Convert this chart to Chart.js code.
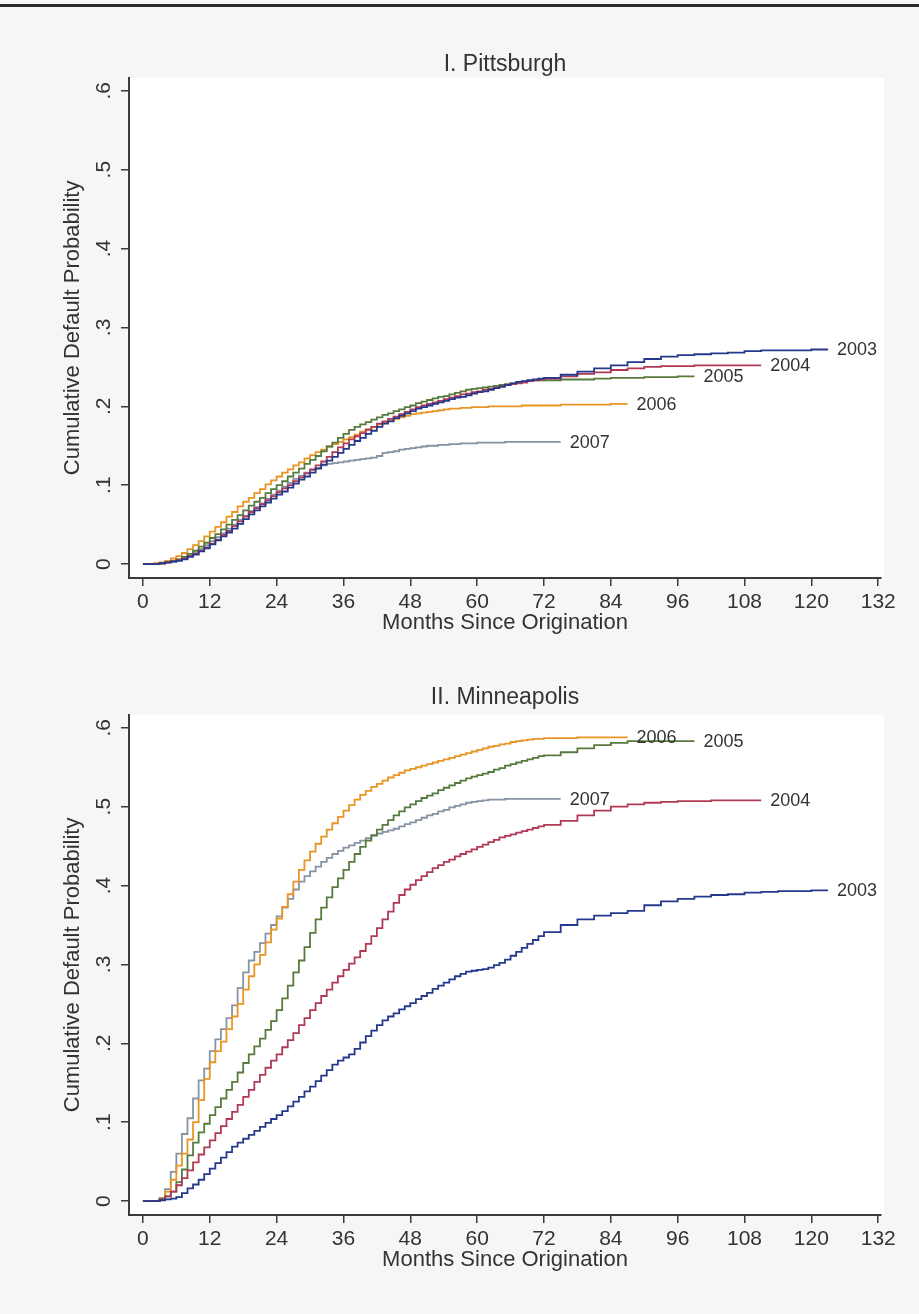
<!DOCTYPE html>
<html>
<head>
<meta charset="utf-8">
<script src="https://cdn.jsdelivr.net/npm/chart.js@4.4.1/dist/chart.umd.min.js"></script>
<style>
  html, body { margin: 0; padding: 0; background: #f6f6f4; }
  body { width: 919px; height: 1314px; position: relative; overflow: hidden; }
  .rule { position: absolute; left: 0; top: 4px; width: 919px; height: 3px; background: #2a2a2a; }
  .panel { position: absolute; left: 0; width: 919px; }
  #top { top: 0; height: 637px; }
  #bottom { top: 637px; height: 677px; }
</style>
</head>
<body>
<div class="rule"></div>
<div class="panel" id="top"><canvas id="pittChart"></canvas></div>
<div class="panel" id="bottom"><canvas id="mplsChart"></canvas></div>
<script>
// month grid: monthly up to 72, then every 3 months
const months = [
  0, 1, 2, 3, 4, 5, 6, 7, 8, 9, 10, 11,
  12, 13, 14, 15, 16, 17, 18, 19, 20, 21, 22, 23,
  24, 25, 26, 27, 28, 29, 30, 31, 32, 33, 34, 35,
  36, 37, 38, 39, 40, 41, 42, 43, 44, 45, 46, 47,
  48, 49, 50, 51, 52, 53, 54, 55, 56, 57, 58, 59,
  60, 61, 62, 63, 64, 65, 66, 67, 68, 69, 70, 71,
  72, 75, 78, 81, 84, 87, 90, 93, 96, 99, 102, 105, 108, 111, 114, 117, 120, 123
];

const cohorts = ['2003', '2004', '2005', '2006', '2007'];
const cohortColors = ['#26388c', '#b03a55', '#577a3d', '#e99524', '#8593a3'];

const xTicks = [0, 12, 24, 36, 48, 60, 72, 84, 96, 108, 120, 132];
const yTicks = [0, 0.1, 0.2, 0.3, 0.4, 0.5, 0.6];
const yTickLabels = ['0', '.1', '.2', '.3', '.4', '.5', '.6'];

// I. Pittsburgh
const pitt2003 = [
  0, 0, 0, 0.001, 0.002, 0.003, 0.004, 0.006, 0.009, 0.012, 0.016, 0.020,
  0.025, 0.030, 0.035, 0.040, 0.045, 0.051, 0.057, 0.063, 0.068, 0.073, 0.078, 0.083,
  0.088, 0.092, 0.097, 0.102, 0.107, 0.111, 0.116, 0.121, 0.126, 0.131, 0.136, 0.141,
  0.146, 0.151, 0.156, 0.160, 0.165, 0.169, 0.174, 0.178, 0.181, 0.185, 0.188, 0.191,
  0.194, 0.197, 0.199, 0.201, 0.203, 0.205, 0.207, 0.209, 0.211, 0.212, 0.214, 0.216,
  0.218, 0.219, 0.221, 0.223, 0.225, 0.227, 0.229, 0.231, 0.232, 0.233, 0.234, 0.235,
  0.236, 0.240, 0.244, 0.248, 0.252, 0.256, 0.260, 0.263, 0.265, 0.266, 0.267, 0.268,
  0.270, 0.271, 0.271, 0.271, 0.272, 0.272
];
const pitt2004 = [
  0, 0, 0, 0.001, 0.002, 0.003, 0.005, 0.007, 0.010, 0.013, 0.017, 0.021,
  0.026, 0.031, 0.037, 0.042, 0.048, 0.054, 0.060, 0.066, 0.071, 0.076, 0.081, 0.086,
  0.091, 0.096, 0.100, 0.105, 0.110, 0.115, 0.120, 0.125, 0.130, 0.136, 0.142, 0.148,
  0.153, 0.158, 0.162, 0.166, 0.170, 0.174, 0.178, 0.181, 0.184, 0.187, 0.190, 0.193,
  0.196, 0.199, 0.201, 0.203, 0.205, 0.207, 0.209, 0.211, 0.213, 0.215, 0.216, 0.218,
  0.219, 0.221, 0.222, 0.224, 0.225, 0.227, 0.228, 0.229, 0.230, 0.232, 0.233, 0.234,
  0.235, 0.238, 0.241, 0.243, 0.246, 0.248, 0.250, 0.251, 0.251, 0.252, 0.252, 0.252,
  0.252, 0.252
];
const pitt2005 = [
  0, 0, 0, 0.001, 0.002, 0.004, 0.006, 0.009, 0.013, 0.017, 0.022, 0.027,
  0.033, 0.038, 0.044, 0.050, 0.056, 0.062, 0.068, 0.074, 0.079, 0.084, 0.090, 0.095,
  0.100, 0.105, 0.111, 0.116, 0.121, 0.127, 0.132, 0.137, 0.143, 0.149, 0.154, 0.160,
  0.165, 0.170, 0.174, 0.177, 0.180, 0.183, 0.186, 0.189, 0.191, 0.194, 0.196, 0.199,
  0.201, 0.204, 0.206, 0.208, 0.210, 0.212, 0.213, 0.215, 0.217, 0.219, 0.221, 0.222,
  0.223, 0.224, 0.225, 0.226, 0.227, 0.228, 0.229, 0.230, 0.231, 0.232, 0.233, 0.233,
  0.233, 0.234, 0.234, 0.235, 0.236, 0.236, 0.237, 0.237, 0.238, 0.238
];
const pitt2006 = [
  0, 0, 0.001, 0.002, 0.004, 0.007, 0.010, 0.014, 0.019, 0.024, 0.029, 0.035,
  0.041, 0.047, 0.053, 0.060, 0.066, 0.073, 0.079, 0.084, 0.090, 0.095, 0.101, 0.106,
  0.111, 0.116, 0.120, 0.125, 0.129, 0.134, 0.138, 0.142, 0.145, 0.149, 0.152, 0.155,
  0.158, 0.161, 0.164, 0.168, 0.171, 0.174, 0.177, 0.180, 0.182, 0.184, 0.186, 0.188,
  0.190, 0.191, 0.192, 0.193, 0.194, 0.195, 0.196, 0.197, 0.197, 0.198, 0.198, 0.199,
  0.199, 0.199, 0.200, 0.200, 0.200, 0.200, 0.200, 0.200, 0.201, 0.201, 0.201, 0.201,
  0.201, 0.202, 0.202, 0.202, 0.203, 0.203
];
const pitt2007 = [
  0, 0, 0, 0.001, 0.002, 0.004, 0.006, 0.008, 0.011, 0.015, 0.019, 0.024,
  0.029, 0.034, 0.039, 0.045, 0.050, 0.056, 0.061, 0.067, 0.072, 0.077, 0.083, 0.088,
  0.093, 0.098, 0.103, 0.108, 0.112, 0.116, 0.119, 0.122, 0.125, 0.127, 0.128, 0.129,
  0.130, 0.131, 0.132, 0.133, 0.134, 0.135, 0.137, 0.141, 0.142, 0.143, 0.145, 0.146,
  0.147, 0.148, 0.149, 0.150, 0.150, 0.151, 0.151, 0.152, 0.152, 0.153, 0.153, 0.153,
  0.154, 0.154, 0.154, 0.154, 0.154, 0.155, 0.155, 0.155, 0.155, 0.155, 0.155, 0.155,
  0.155, 0.155
];

// II. Minneapolis
const mpls2003 = [
  0, 0, 0, 0.001, 0.002, 0.003, 0.005, 0.010, 0.016, 0.021, 0.027, 0.034,
  0.041, 0.048, 0.055, 0.062, 0.069, 0.074, 0.079, 0.084, 0.089, 0.094, 0.099, 0.104,
  0.109, 0.114, 0.120, 0.126, 0.132, 0.139, 0.145, 0.152, 0.159, 0.166, 0.173, 0.178,
  0.182, 0.186, 0.193, 0.201, 0.209, 0.216, 0.223, 0.229, 0.234, 0.238, 0.243, 0.247,
  0.251, 0.256, 0.260, 0.264, 0.269, 0.273, 0.277, 0.281, 0.285, 0.288, 0.291, 0.292,
  0.293, 0.294, 0.296, 0.299, 0.302, 0.306, 0.311, 0.316, 0.321, 0.326, 0.331, 0.336,
  0.341, 0.350, 0.357, 0.362, 0.365, 0.368, 0.375, 0.380, 0.383, 0.386, 0.388, 0.389,
  0.391, 0.392, 0.393, 0.393, 0.394, 0.394
];
const mpls2004 = [
  0, 0, 0, 0.002, 0.006, 0.012, 0.020, 0.029, 0.039, 0.049, 0.059, 0.068,
  0.077, 0.086, 0.095, 0.104, 0.113, 0.122, 0.132, 0.141, 0.151, 0.160, 0.169, 0.178,
  0.186, 0.195, 0.204, 0.213, 0.223, 0.232, 0.242, 0.251, 0.260, 0.268, 0.277, 0.285,
  0.293, 0.301, 0.309, 0.317, 0.326, 0.336, 0.346, 0.357, 0.367, 0.378, 0.388, 0.395,
  0.401, 0.407, 0.412, 0.417, 0.422, 0.426, 0.430, 0.433, 0.437, 0.440, 0.443, 0.446,
  0.449, 0.452, 0.455, 0.458, 0.461, 0.463, 0.465, 0.467, 0.469, 0.471, 0.473, 0.475,
  0.477, 0.482, 0.489, 0.495, 0.500, 0.503, 0.505, 0.506, 0.507, 0.507, 0.508, 0.508,
  0.508, 0.508
];
const mpls2005 = [
  0, 0, 0, 0.002, 0.006, 0.012, 0.024, 0.040, 0.058, 0.074, 0.087, 0.098,
  0.109, 0.119, 0.130, 0.141, 0.151, 0.163, 0.175, 0.186, 0.196, 0.206, 0.217, 0.228,
  0.242, 0.257, 0.273, 0.290, 0.305, 0.322, 0.340, 0.357, 0.372, 0.385, 0.398, 0.409,
  0.420, 0.430, 0.440, 0.449, 0.457, 0.464, 0.471, 0.477, 0.483, 0.489, 0.494, 0.499,
  0.503, 0.507, 0.511, 0.514, 0.517, 0.521, 0.524, 0.527, 0.530, 0.533, 0.536, 0.538,
  0.540, 0.542, 0.544, 0.547, 0.549, 0.552, 0.554, 0.556, 0.558, 0.560, 0.562, 0.564,
  0.565, 0.569, 0.574, 0.578, 0.581, 0.583, 0.583, 0.583, 0.583, 0.583
];
const mpls2006 = [
  0, 0, 0, 0.003, 0.012, 0.027, 0.045, 0.060, 0.078, 0.100, 0.128, 0.155,
  0.176, 0.190, 0.202, 0.218, 0.234, 0.250, 0.268, 0.285, 0.300, 0.312, 0.328, 0.344,
  0.358, 0.373, 0.389, 0.405, 0.420, 0.432, 0.443, 0.453, 0.462, 0.471, 0.479, 0.487,
  0.495, 0.502, 0.509, 0.515, 0.520, 0.525, 0.529, 0.533, 0.537, 0.540, 0.543, 0.546,
  0.548, 0.550, 0.552, 0.554, 0.556, 0.558, 0.560, 0.562, 0.564, 0.566, 0.568, 0.570,
  0.572, 0.574, 0.576, 0.577, 0.579, 0.580, 0.582, 0.583, 0.584, 0.585, 0.586, 0.586,
  0.587, 0.587, 0.588, 0.588, 0.588, 0.588
];
const mpls2007 = [
  0, 0, 0, 0.004, 0.015, 0.037, 0.060, 0.085, 0.105, 0.130, 0.153, 0.168,
  0.190, 0.205, 0.218, 0.232, 0.248, 0.270, 0.290, 0.305, 0.316, 0.327, 0.339, 0.350,
  0.361, 0.372, 0.383, 0.395, 0.405, 0.412, 0.418, 0.424, 0.430, 0.435, 0.440, 0.444,
  0.448, 0.451, 0.454, 0.457, 0.460, 0.463, 0.466, 0.468, 0.470, 0.472, 0.475, 0.478,
  0.480, 0.483, 0.486, 0.489, 0.491, 0.494, 0.496, 0.499, 0.501, 0.503, 0.505, 0.506,
  0.507, 0.508, 0.509, 0.509, 0.509, 0.510, 0.510, 0.510, 0.510, 0.510, 0.510, 0.510,
  0.510, 0.510
];

const FONT = '"Liberation Sans", Arial, Helvetica, sans-serif';
const INK = '#333333';

// white plot region on the grey page
const plotBackground = {
  id: 'plotBackground',
  beforeDraw(chart) {
    const a = chart.chartArea;
    const ctx = chart.ctx;
    ctx.save();
    ctx.fillStyle = '#ffffff';
    ctx.fillRect(a.left, a.top, a.right - a.left + 3, a.bottom - a.top);
    ctx.restore();
  }
};

// y tick labels are written sideways, reading upwards
const sidewaysYTicks = {
  id: 'sidewaysYTicks',
  afterDraw(chart) {
    const scale = chart.scales.y;
    const ctx = chart.ctx;
    ctx.save();
    ctx.font = '21px ' + FONT;
    ctx.fillStyle = INK;
    ctx.textAlign = 'center';
    ctx.textBaseline = 'middle';
    scale.ticks.forEach(t => {
      const py = scale.getPixelForValue(t.value);
      const i = yTicks.indexOf(t.value);
      ctx.save();
      ctx.translate(scale.right - 25, py);
      ctx.rotate(-Math.PI / 2);
      ctx.fillText(yTickLabels[i], 0, 0);
      ctx.restore();
    });
    ctx.restore();
  }
};

// cohort year written just past the end of each curve
const endLabels = {
  id: 'endLabels',
  afterDatasetsDraw(chart) {
    const ctx = chart.ctx;
    ctx.save();
    ctx.font = '18px ' + FONT;
    ctx.fillStyle = INK;
    ctx.textBaseline = 'middle';
    chart.data.datasets.forEach((ds, i) => {
      const pts = chart.getDatasetMeta(i).data;
      const last = pts[pts.length - 1];
      ctx.fillText(ds.label, last.x + 9, last.y + 1);
    });
    ctx.restore();
  }
};

function toPoints(values) {
  return values.map((v, i) => ({ x: months[i], y: v }));
}

function makeChart(canvasId, title, series, pad) {
  const axisGrid = {
    display: true,
    drawOnChartArea: false,
    drawTicks: true,
    tickLength: 8,
    color: '#3a3a3a',
    lineWidth: 1.5
  };
  const axisBorder = { display: true, color: '#3a3a3a', width: 2 };

  return new Chart(document.getElementById(canvasId), {
    type: 'line',
    data: {
      datasets: series.map((vals, i) => ({
        label: cohorts[i],
        data: toPoints(vals),
        borderColor: cohortColors[i],
        borderWidth: 1.8,
        stepped: true,
        pointRadius: 0,
        fill: false
      }))
    },
    options: {
      responsive: true,
      maintainAspectRatio: false,
      animation: false,
      devicePixelRatio: 1,
      layout: { padding: { left: 0, right: 38, top: pad.top, bottom: pad.bottom } },
      plugins: {
        legend: { display: false },
        tooltip: { enabled: false },
        title: {
          display: true,
          text: title,
          color: INK,
          fullSize: false,
          font: { family: FONT, size: 23, weight: 'normal', lineHeight: 0.8 },
          padding: { top: 0, bottom: pad.titleGap }
        }
      },
      scales: {
        x: {
          type: 'linear',
          min: -2.5,
          max: 132.5,
          afterBuildTicks: s => { s.ticks = xTicks.map(v => ({ value: v })); },
          afterFit: s => { s.height = 59; },
          grid: axisGrid,
          border: axisBorder,
          ticks: { color: INK, font: { family: FONT, size: 21 }, padding: 4, maxRotation: 0, autoSkip: false },
          title: {
            display: true,
            text: 'Months Since Origination',
            color: INK,
            font: { family: FONT, size: 22 },
            padding: { top: 0, bottom: 1 }
          }
        },
        y: {
          type: 'linear',
          min: -0.0177,
          max: 0.6165,
          afterBuildTicks: s => { s.ticks = yTicks.map(v => ({ value: v })); },
          afterFit: s => { s.width = 129; },
          grid: axisGrid,
          border: axisBorder,
          ticks: { display: false },
          title: {
            display: true,
            text: 'Cumulative Default Probability',
            color: INK,
            font: { family: FONT, size: 22 },
            padding: { top: 60, bottom: 0 }
          }
        }
      }
    },
    plugins: [plotBackground, sidewaysYTicks, endLabels]
  });
}

makeChart('pittChart', 'I. Pittsburgh',
  [pitt2003, pitt2004, pitt2005, pitt2006, pitt2007],
  { top: 55.4, bottom: 0, titleGap: 4 });

makeChart('mplsChart', 'II. Minneapolis',
  [mpls2003, mpls2004, mpls2005, mpls2006, mpls2007],
  { top: 51.4, bottom: 40, titleGap: 8 });
</script>
</body>
</html>
